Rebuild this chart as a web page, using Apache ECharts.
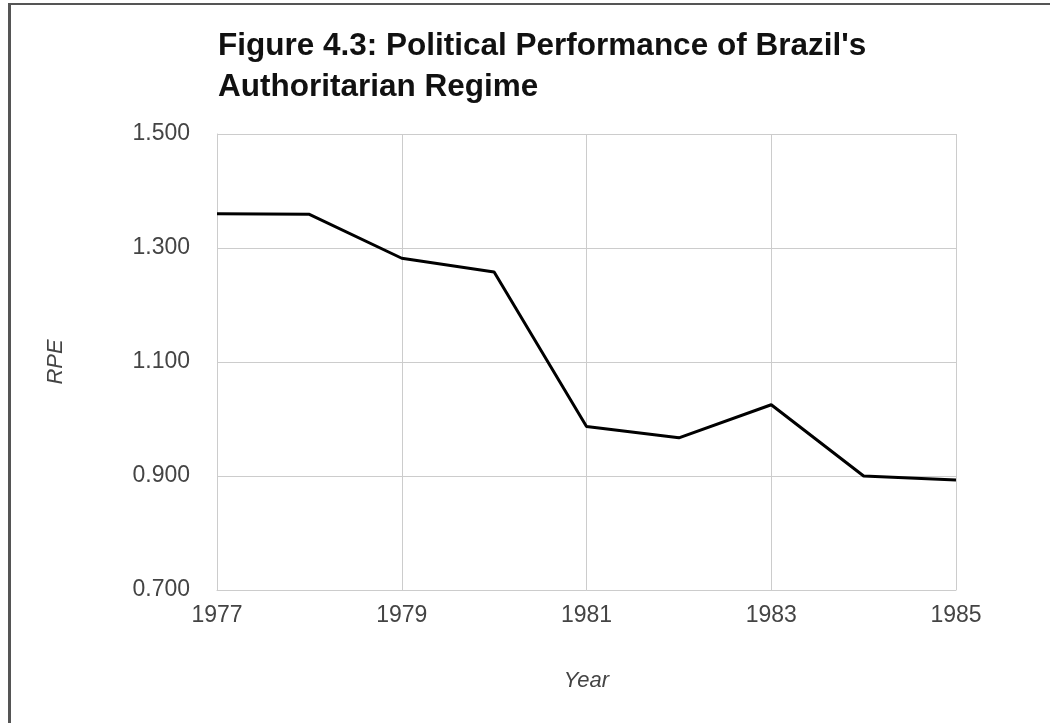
<!DOCTYPE html>
<html>
<head>
<meta charset="utf-8">
<script src="https://cdn.jsdelivr.net/npm/echarts@6/dist/echarts.min.js"></script>
<style>
  html, body { margin: 0; padding: 0; background: #fff; }
  #frame {
    position: absolute; left: 8px; top: 3px; right: 0; bottom: 0;
    border-top: 2px solid #555; border-left: 3px solid #555;
  }
  #chart { position: absolute; left: 0; top: 0; width: 1050px; height: 723px; }
</style>
</head>
<body>
<div id="frame"></div>
<div id="chart"></div>
<script>
// data
var years = ['1977', '1978', '1979', '1980', '1981', '1982', '1983', '1984', '1985']
var rpe = [1.360, 1.359, 1.282, 1.258, 0.987, 0.967, 1.025, 0.900, 0.893]
var yMin = 0.7
var yMax = 1.5
var yStep = 0.2

var chart = echarts.init(document.getElementById('chart'), null, { renderer: 'canvas' })
var font = 'Liberation Sans, Arial, sans-serif'

chart.setOption({
  backgroundColor: 'transparent',
  animation: false,
  title: {
    text: 'Figure 4.3: Political Performance of Brazil\'s\nAuthoritarian Regime',
    left: 213,
    top: 21,
    textStyle: {
      fontFamily: font,
      fontSize: 31.5,
      fontWeight: 'bold',
      color: '#111',
      lineHeight: 41
    }
  },
  grid: { left: 217, right: 94, top: 134, bottom: 133 },
  xAxis: {
    type: 'category',
    data: years,
    boundaryGap: false,
    name: 'Year',
    nameLocation: 'middle',
    nameGap: 80,
    nameTextStyle: { fontFamily: font, fontSize: 22, fontStyle: 'italic', color: '#444' },
    axisLine: { show: true, lineStyle: { color: '#ccc', width: 1 } },
    axisTick: { show: false },
    axisLabel: {
      interval: 1,
      margin: 14,
      fontFamily: font,
      fontSize: 23,
      color: '#444'
    },
    splitLine: { show: true, interval: 1, lineStyle: { color: '#ccc', width: 1 } }
  },
  yAxis: {
    type: 'value',
    min: yMin,
    max: yMax,
    interval: yStep,
    name: 'RPE',
    nameLocation: 'middle',
    nameGap: 150,
    nameRotate: 90,
    nameTextStyle: { fontFamily: font, fontSize: 22, fontStyle: 'italic', color: '#444' },
    axisLine: { show: true, lineStyle: { color: '#ccc' } },
    axisTick: { show: false },
    axisLabel: {
      margin: 27,
      fontFamily: font,
      fontSize: 23,
      color: '#444',
      formatter: function (v) { return v.toFixed(3) }
    },
    splitLine: { lineStyle: { color: '#ccc', width: 1 } }
  },
  series: [{
    type: 'line',
    data: rpe,
    symbol: 'none',
    lineStyle: { color: '#000', width: 3 }
  }]
})
</script>
</body>
</html>
